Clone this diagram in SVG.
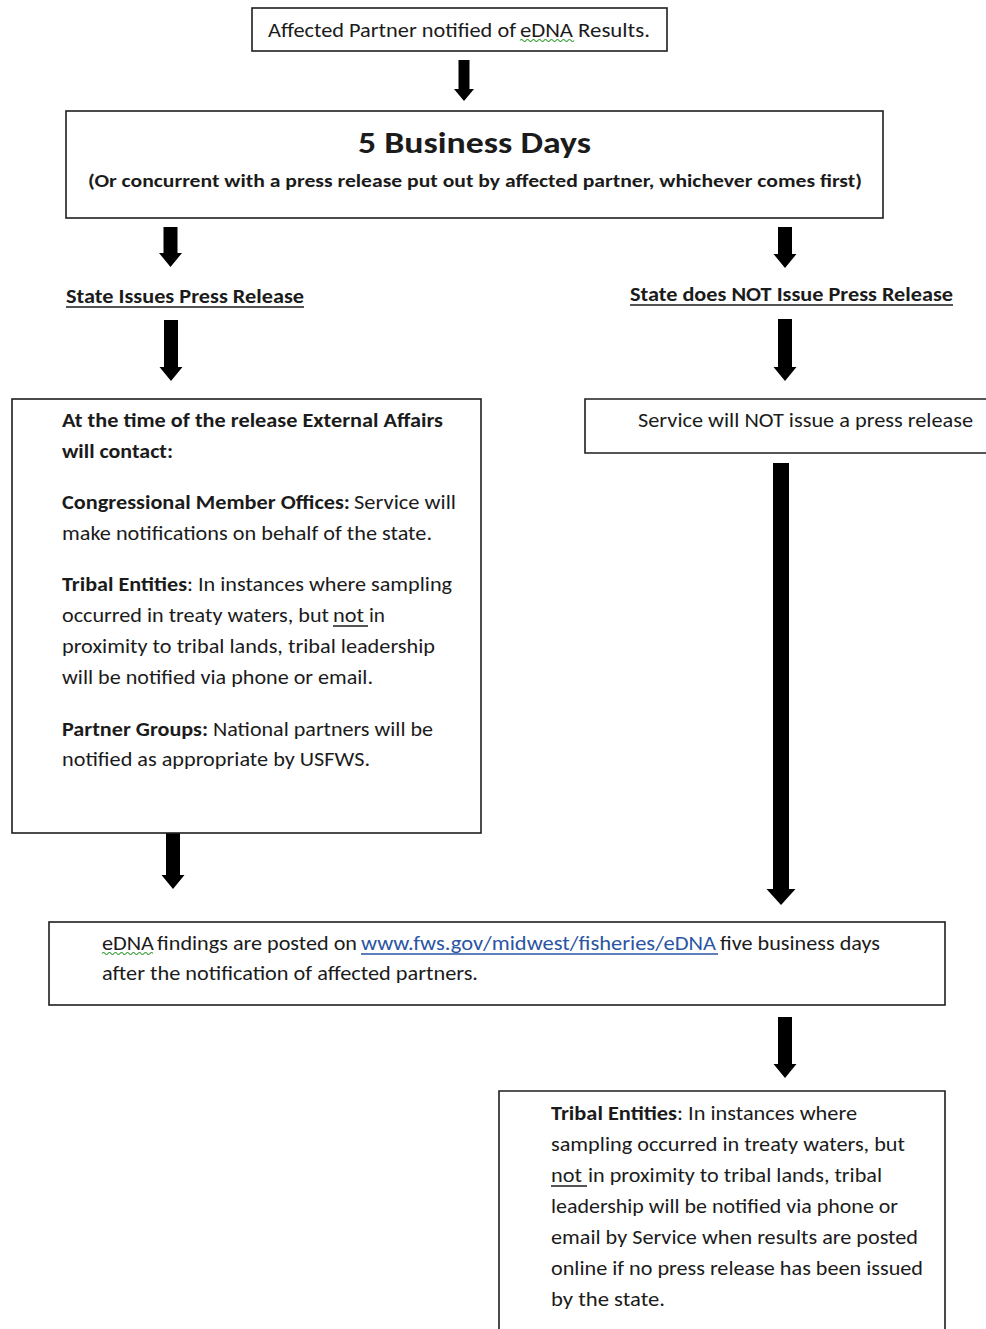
<svg xmlns="http://www.w3.org/2000/svg" width="986" height="1329" viewBox="0 0 986 1329">
<style>
.box{fill:#fff;stroke:#1e1e1e;stroke-width:1.6}
.t{font-family:Carlito,"Liberation Sans",Arial,sans-serif;font-size:19.5px;fill:#1b1b1b}
.b{font-weight:bold}
.ul{stroke:#1b1b1b;stroke-width:1.4}
.lk{fill:#2b55a3}
.arr{fill:#000}
.wave{fill:none;stroke:#3aa03a;stroke-width:1.1}
</style>
<rect width="986" height="1329" fill="#fff"/>

<g id="connectors">
<polygon class="arr" points="458.5,60 469.5,60 469.5,89 474,89 464,101 454,89 458.5,89"/>
<polygon class="arr" points="163.5,227 177.5,227 177.5,253 182,253 170.5,267 159,253 163.5,253"/>
<polygon class="arr" points="778,227 792,227 792,254 796.5,254 785,268 773.5,254 778,254"/>
<polygon class="arr" points="164,320 178,320 178,367 182.5,367 171,381 159.5,367 164,367"/>
<polygon class="arr" points="778,319 792,319 792,367 796.5,367 785,381 773.5,367 778,367"/>
<polygon class="arr" points="773,463 789,463 789,889 795.5,889 781,905 766.5,889 773,889"/>
<polygon class="arr" points="166,827 180,827 180,875 184.5,875 173,889 161.5,875 166,875"/>
<polygon class="arr" points="778,1017 792,1017 792,1064 796.5,1064 785,1078 773.5,1064 778,1064"/>
</g>

<g id="node-notified">
<rect class="box" x="252" y="8" width="415" height="43"/>
<text class="t" x="268" y="37" textLength="248" lengthAdjust="spacingAndGlyphs">Affected Partner notified of</text>
<text class="t" x="520" y="37" textLength="53" lengthAdjust="spacingAndGlyphs">eDNA</text>
<text class="t" x="578" y="37" textLength="72" lengthAdjust="spacingAndGlyphs">Results.</text>
<path class="wave" d="M520,40.5 q1.5,-2 3,0 t3,0 t3,0 t3,0 t3,0 t3,0 t3,0 t3,0 t3,0 t3,0 t3,0 t3,0 t3,0 t3,0 t3,0 t3,0 t3,0 t3,0"/>
</g>

<g id="node-5days">
<rect class="box" x="66" y="111" width="817" height="107"/>
<text class="t b" x="358" y="153" style="font-size:30px" textLength="233" lengthAdjust="spacingAndGlyphs">5 Business Days</text>
<text class="t b" x="88" y="187" style="font-size:17.5px" textLength="774" lengthAdjust="spacingAndGlyphs">(Or concurrent with a press release put out by affected partner, whichever comes first)</text>
</g>

<g id="node-state-issues">
<text class="t b" x="66" y="303" textLength="238" lengthAdjust="spacingAndGlyphs">State Issues Press Release</text>
<line class="ul" x1="66" y1="307" x2="304" y2="307"/>
</g>

<g id="node-state-not">
<text class="t b" x="630" y="301" textLength="323" lengthAdjust="spacingAndGlyphs">State does NOT Issue Press Release</text>
<line class="ul" x1="630" y1="305" x2="953" y2="305"/>
</g>

<g id="node-external-affairs">
<rect class="box" x="12" y="399" width="469" height="434"/>
<text class="t b" x="62" y="427" textLength="381" lengthAdjust="spacingAndGlyphs">At the time of the release External Affairs</text>
<text class="t b" x="62" y="458" textLength="111" lengthAdjust="spacingAndGlyphs">will contact:</text>
<text class="t b" x="62" y="509" textLength="288" lengthAdjust="spacingAndGlyphs">Congressional Member Offices:</text>
<text class="t" x="354" y="509" textLength="102" lengthAdjust="spacingAndGlyphs">Service will</text>
<text class="t" x="62" y="540" textLength="370" lengthAdjust="spacingAndGlyphs">make notifications on behalf of the state.</text>
<text class="t b" x="62" y="591" textLength="125" lengthAdjust="spacingAndGlyphs">Tribal Entities</text>
<text class="t" x="187" y="591" textLength="265" lengthAdjust="spacingAndGlyphs">: In instances where sampling</text>
<text class="t" x="62" y="622" textLength="267" lengthAdjust="spacingAndGlyphs">occurred in treaty waters, but</text>
<text class="t" x="333" y="622" textLength="31" lengthAdjust="spacingAndGlyphs">not</text>
<text class="t" x="369" y="622" textLength="16" lengthAdjust="spacingAndGlyphs">in</text>
<line class="ul" x1="333" y1="626" x2="368" y2="626"/>
<text class="t" x="62" y="653" textLength="373" lengthAdjust="spacingAndGlyphs">proximity to tribal lands, tribal leadership</text>
<text class="t" x="62" y="684" textLength="311" lengthAdjust="spacingAndGlyphs">will be notified via phone or email.</text>
<text class="t b" x="62" y="736" textLength="146" lengthAdjust="spacingAndGlyphs">Partner Groups:</text>
<text class="t" x="213" y="736" textLength="220" lengthAdjust="spacingAndGlyphs">National partners will be</text>
<text class="t" x="62" y="766" textLength="308" lengthAdjust="spacingAndGlyphs">notified as appropriate by USFWS.</text>
</g>

<g id="node-service-not">
<path class="box" d="M990,399 H585 V453 H990"/>
<text class="t" x="638" y="427" textLength="335" lengthAdjust="spacingAndGlyphs">Service will NOT issue a press release</text>
</g>

<g id="node-posted">
<rect class="box" x="49" y="922" width="896" height="83"/>
<text class="t" x="102" y="950" textLength="52" lengthAdjust="spacingAndGlyphs">eDNA</text>
<path class="wave" d="M102,953.5 q1.5,-2 3,0 t3,0 t3,0 t3,0 t3,0 t3,0 t3,0 t3,0 t3,0 t3,0 t3,0 t3,0 t3,0 t3,0 t3,0 t3,0 t3,0"/>
<text class="t" x="157" y="950" textLength="200" lengthAdjust="spacingAndGlyphs">findings are posted on</text>
<text class="t lk" x="361" y="950" textLength="355" lengthAdjust="spacingAndGlyphs">www.fws.gov/midwest/fisheries/eDNA</text>
<line x1="361" y1="954" x2="718" y2="954" stroke="#2b55a3" stroke-width="1.4"/>
<text class="t" x="720" y="950" textLength="160" lengthAdjust="spacingAndGlyphs">five business days</text>
<text class="t" x="102" y="980" textLength="376" lengthAdjust="spacingAndGlyphs">after the notification of affected partners.</text>
</g>

<g id="node-tribal-online">
<path class="box" d="M499,1335 V1091 H945 V1335"/>
<text class="t b" x="551" y="1120" textLength="126" lengthAdjust="spacingAndGlyphs">Tribal Entities</text>
<text class="t" x="677" y="1120" textLength="180" lengthAdjust="spacingAndGlyphs">: In instances where</text>
<text class="t" x="551" y="1151" textLength="354" lengthAdjust="spacingAndGlyphs">sampling occurred in treaty waters, but</text>
<text class="t" x="551" y="1182" textLength="31" lengthAdjust="spacingAndGlyphs">not</text>
<line class="ul" x1="551" y1="1186" x2="587" y2="1186"/>
<text class="t" x="588" y="1182" textLength="294" lengthAdjust="spacingAndGlyphs">in proximity to tribal lands, tribal</text>
<text class="t" x="551" y="1213" textLength="347" lengthAdjust="spacingAndGlyphs">leadership will be notified via phone or</text>
<text class="t" x="551" y="1244" textLength="367" lengthAdjust="spacingAndGlyphs">email by Service when results are posted</text>
<text class="t" x="551" y="1275" textLength="372" lengthAdjust="spacingAndGlyphs">online if no press release has been issued</text>
<text class="t" x="551" y="1306" textLength="114" lengthAdjust="spacingAndGlyphs">by the state.</text>
</g>
</svg>
